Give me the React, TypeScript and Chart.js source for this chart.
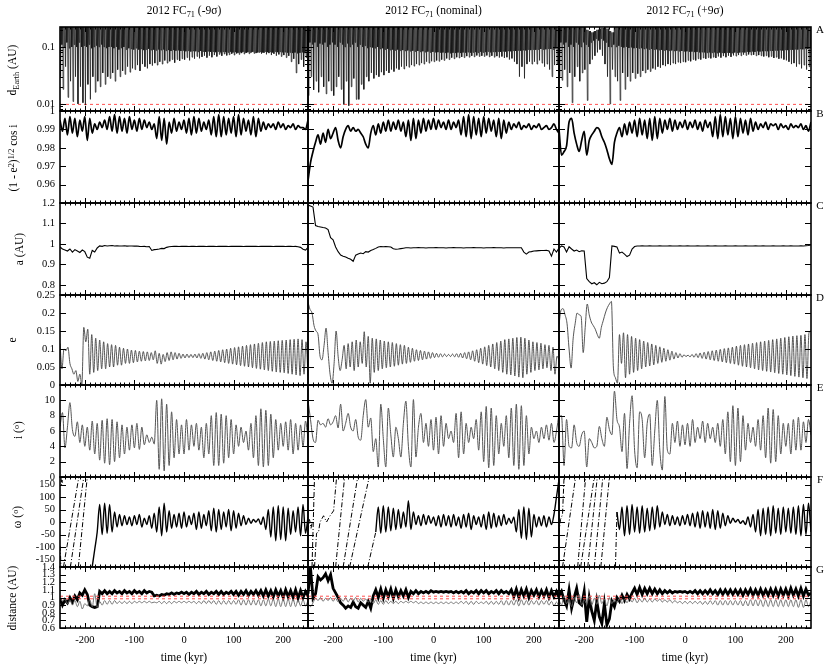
import React, { useEffect, useRef } from "react";
import { Chart, registerables } from "chart.js";

Chart.register(...registerables);

const SERIF = "'Liberation Serif', 'Times New Roman', Times, serif";

// ---------------- time axis ----------------
const T_MIN = -250;
const T_MAX = 250;
const X_TICKS = [-200, -100, 0, 100, 200];
const X_MINOR_STEP = 10;

// ---------------- titles ----------------
const COLUMN_TAGS = ["(-9σ)", "(nominal)", "(+9σ)"];
const PANEL_LETTERS = ["A", "B", "C", "D", "E", "F", "G"];

// ---------------- y axes ----------------
const A_RANGE = [0.0075, 0.224];
const A_TICKS = [0.01, 0.1];
const A_MINOR = [0.008, 0.009, 0.02, 0.03, 0.04, 0.05, 0.06, 0.07, 0.08, 0.09, 0.2];
const B_RANGE = [0.95, 1.0];
const B_TICKS = [0.96, 0.97, 0.98, 0.99, 1];
const C_RANGE = [0.75, 1.2];
const C_TICKS = [0.8, 0.9, 1, 1.1, 1.2];
const D_RANGE = [0, 0.25];
const D_TICKS = [0, 0.05, 0.1, 0.15, 0.2, 0.25];
const E_RANGE = [0, 12];
const E_TICKS = [0, 2, 4, 6, 8, 10];
const F_RANGE = [-180, 180];
const F_TICKS = [-150, -100, -50, 0, 50, 100, 150];
const G_RANGE = [0.6, 1.4];
const G_TICKS = [0.6, 0.7, 0.8, 0.9, 1, 1.1, 1.2, 1.3, 1.4];

const HILL_RADIUS = 0.0098;
const EARTH_PERIHELION = 0.983;
const EARTH_APHELION = 1.017;

// ---------------- A : d_Earth ----------------
// maxima of the encounter cycles (mostly above the plotted range)
const A_TOP = 0.3;
const A_MAX_3 = [
  0.3, 0.3, 0.3, 0.3, 0.3, 0.3, 0.3, 0.3, 0.3, 0.3,
  0.3, 0.2, 0.19, 0.18, 0.19, 0.2, 0.21, 0.215, 0.22, 0.21,
  0.19, 0.18, 0.3, 0.3, 0.3, 0.3, 0.3, 0.3, 0.3, 0.3,
  0.3, 0.3, 0.3, 0.3, 0.3, 0.3, 0.3, 0.3, 0.3, 0.3,
  0.3, 0.3, 0.3, 0.3, 0.3, 0.3, 0.3, 0.3, 0.3, 0.3,
  0.3, 0.3, 0.3, 0.3, 0.3, 0.3, 0.3, 0.3, 0.3, 0.3,
  0.3, 0.3, 0.3, 0.3, 0.3, 0.3, 0.3, 0.3, 0.3, 0.3,
  0.3, 0.3, 0.3, 0.3, 0.3, 0.3, 0.3, 0.3, 0.3, 0.3,
  0.3, 0.3, 0.3, 0.3, 0.3, 0.3, 0.3, 0.3, 0.3, 0.3,
  0.3, 0.3, 0.3, 0.3, 0.3, 0.3, 0.3, 0.3, 0.3, 0.3,
  0.3,
];
// deepest minima, one per 5 kyr (from -248.75)
const A_MIN_1 = [
  0.03, 0.018, 0.045, 0.013, 0.025, 0.011, 0.03, 0.01, 0.02, 0.0105,
  0.0095, 0.022, 0.012, 0.03, 0.016, 0.025, 0.02, 0.035, 0.022, 0.03,
  0.028, 0.035, 0.025, 0.04, 0.03, 0.038, 0.033, 0.045, 0.036, 0.042,
  0.04, 0.048, 0.038, 0.05, 0.045, 0.042, 0.05, 0.047, 0.052, 0.048,
  0.055, 0.05, 0.058, 0.052, 0.056, 0.06, 0.053, 0.06, 0.057, 0.062,
  0.06, 0.065, 0.058, 0.066, 0.062, 0.068, 0.063, 0.067, 0.07, 0.065,
  0.07, 0.066, 0.072, 0.068, 0.074, 0.07, 0.075, 0.071, 0.073, 0.076,
  0.072, 0.077, 0.074, 0.078, 0.075, 0.079, 0.076, 0.08, 0.077, 0.078,
  0.08, 0.076, 0.079, 0.074, 0.078, 0.072, 0.076, 0.07, 0.074, 0.068,
  0.072, 0.065, 0.07, 0.055, 0.062, 0.035, 0.05, 0.06, 0.045, 0.065,
];
const A_MIN_2 = [
  0.014, 0.03, 0.0176, 0.025, 0.016, 0.03, 0.02, 0.015, 0.025, 0.017,
  0.014, 0.02, 0.03, 0.018, 0.0098, 0.025, 0.0093, 0.02, 0.028, 0.012,
  0.012, 0.022, 0.018, 0.03, 0.025, 0.035, 0.028, 0.032, 0.03, 0.036,
  0.032, 0.038, 0.035, 0.04, 0.037, 0.042, 0.04, 0.045, 0.041, 0.046,
  0.044, 0.048, 0.046, 0.05, 0.048, 0.052, 0.05, 0.055, 0.052, 0.056,
  0.055, 0.058, 0.056, 0.06, 0.058, 0.063, 0.06, 0.065, 0.062, 0.066,
  0.064, 0.067, 0.065, 0.069, 0.066, 0.07, 0.067, 0.071, 0.068, 0.07,
  0.068, 0.071, 0.067, 0.07, 0.066, 0.069, 0.065, 0.068, 0.064, 0.066,
  0.06, 0.063, 0.055, 0.05, 0.03, 0.045, 0.028, 0.05, 0.055, 0.05,
  0.055, 0.05, 0.058, 0.052, 0.045, 0.05, 0.04, 0.03, 0.048, 0.05,
];
const A_MIN_3 = [
  0.03, 0.026, 0.04, 0.02, 0.035, 0.0105, 0.03, 0.045, 0.025, 0.035,
  0.04, 0.0115, 0.05, 0.06, 0.07, 0.08, 0.09, 0.07, 0.05, 0.03,
  0.01, 0.04, 0.03, 0.025, 0.0115, 0.035, 0.018, 0.03, 0.025, 0.035,
  0.028, 0.034, 0.03, 0.038, 0.035, 0.04, 0.037, 0.042, 0.04, 0.045,
  0.043, 0.048, 0.046, 0.05, 0.048, 0.052, 0.05, 0.054, 0.052, 0.055,
  0.054, 0.058, 0.056, 0.06, 0.058, 0.062, 0.06, 0.064, 0.062, 0.065,
  0.063, 0.066, 0.064, 0.068, 0.065, 0.069, 0.066, 0.07, 0.067, 0.071,
  0.069, 0.072, 0.07, 0.073, 0.071, 0.074, 0.072, 0.073, 0.07, 0.072,
  0.07, 0.068, 0.07, 0.066, 0.068, 0.064, 0.066, 0.062, 0.063, 0.06,
  0.058, 0.055, 0.05, 0.052, 0.045, 0.05, 0.042, 0.048, 0.04, 0.045,
];
// shallow minima (lower edge of the solid band), one per 5 kyr (from -246.25)
const A_BAND_1 = [
  0.11, 0.1, 0.12, 0.095, 0.1, 0.11, 0.1, 0.12, 0.1, 0.105,
  0.1, 0.11, 0.095, 0.1, 0.105, 0.1, 0.11, 0.1, 0.095, 0.1,
  0.1, 0.095, 0.1, 0.09, 0.095, 0.1, 0.09, 0.095, 0.092, 0.09,
  0.095, 0.09, 0.092, 0.088, 0.09, 0.093, 0.088, 0.09, 0.087, 0.09,
  0.088, 0.09, 0.086, 0.088, 0.085, 0.088, 0.086, 0.087, 0.085, 0.086,
  0.084, 0.086, 0.083, 0.085, 0.084, 0.082, 0.085, 0.083, 0.082, 0.084,
  0.082, 0.083, 0.081, 0.083, 0.08, 0.082, 0.081, 0.08, 0.082, 0.08,
  0.081, 0.079, 0.08, 0.082, 0.079, 0.081, 0.08, 0.082, 0.079, 0.08,
  0.082, 0.08, 0.083, 0.081, 0.082, 0.08, 0.083, 0.081, 0.082, 0.08,
  0.081, 0.079, 0.08, 0.078, 0.08, 0.077, 0.079, 0.08, 0.078, 0.08,
];
const A_BAND_2 = [
  0.12, 0.11, 0.12, 0.1, 0.115, 0.11, 0.12, 0.1, 0.11, 0.12,
  0.11, 0.1, 0.12, 0.11, 0.1, 0.115, 0.1, 0.11, 0.12, 0.1,
  0.11, 0.1, 0.105, 0.095, 0.1, 0.098, 0.095, 0.1, 0.092, 0.095,
  0.09, 0.093, 0.088, 0.09, 0.087, 0.09, 0.086, 0.088, 0.085, 0.087,
  0.084, 0.086, 0.083, 0.085, 0.082, 0.084, 0.081, 0.083, 0.08, 0.082,
  0.08, 0.081, 0.079, 0.08, 0.078, 0.08, 0.077, 0.079, 0.078, 0.08,
  0.078, 0.08, 0.079, 0.081, 0.079, 0.08, 0.081, 0.079, 0.082, 0.08,
  0.081, 0.083, 0.08, 0.082, 0.081, 0.083, 0.082, 0.084, 0.083, 0.085,
  0.084, 0.086, 0.085, 0.087, 0.086, 0.088, 0.087, 0.09, 0.088, 0.09,
  0.089, 0.09, 0.092, 0.09, 0.091, 0.093, 0.092, 0.09, 0.094, 0.092,
];
const A_BAND_3 = [
  0.12, 0.11, 0.12, 0.1, 0.11, 0.1, 0.12, 0.11, 0.1, 0.12,
  0.11, 0.1, 0.12, 0.13, 0.14, 0.13, 0.14, 0.13, 0.12, 0.1,
  0.1, 0.11, 0.1, 0.105, 0.1, 0.098, 0.1, 0.096, 0.098, 0.095,
  0.096, 0.094, 0.095, 0.092, 0.094, 0.09, 0.092, 0.09, 0.091, 0.088,
  0.089, 0.087, 0.088, 0.086, 0.087, 0.085, 0.086, 0.084, 0.085, 0.083,
  0.084, 0.082, 0.083, 0.081, 0.082, 0.08, 0.081, 0.08, 0.079, 0.08,
  0.079, 0.08, 0.078, 0.08, 0.079, 0.078, 0.08, 0.079, 0.078, 0.08,
  0.079, 0.08, 0.081, 0.08, 0.082, 0.081, 0.083, 0.082, 0.084, 0.083,
  0.084, 0.085, 0.084, 0.086, 0.085, 0.087, 0.086, 0.088, 0.087, 0.089,
  0.088, 0.09, 0.089, 0.091, 0.09, 0.092, 0.091, 0.093, 0.092, 0.094,
];

// ---------------- B : (1-e^2)^1/2 cos i, every 5 kyr from -250 ----------------
const B_1 = [
  0.995, 0.989, 0.996, 0.987, 0.997, 0.988, 0.996, 0.986, 0.995, 0.989,
  0.997, 0.984, 0.996, 0.988, 0.993, 0.990, 0.994, 0.991, 0.995, 0.990,
  0.997, 0.989, 0.998, 0.988, 0.997, 0.989, 0.996, 0.988, 0.997, 0.990,
  0.995, 0.989, 0.996, 0.990, 0.995, 0.991, 0.994, 0.990, 0.993, 0.985,
  0.997, 0.984, 0.996, 0.982, 0.994, 0.988, 0.996, 0.989, 0.994, 0.990,
  0.995, 0.988, 0.996, 0.987, 0.997, 0.988, 0.996, 0.989, 0.994, 0.990,
  0.995, 0.987, 0.997, 0.986, 0.998, 0.986, 0.997, 0.987, 0.996, 0.988,
  0.997, 0.986, 0.998, 0.987, 0.996, 0.989, 0.995, 0.987, 0.997, 0.986,
  0.996, 0.989, 0.994, 0.990, 0.993, 0.991, 0.993, 0.990, 0.994, 0.991,
  0.993, 0.990, 0.992, 0.991, 0.993, 0.990, 0.992, 0.991, 0.991, 0.990,
  0.995,
];
const B_2 = [
  0.962, 0.972, 0.978, 0.983, 0.987, 0.982, 0.988, 0.983, 0.990, 0.985,
  0.988, 0.991, 0.984, 0.980, 0.986, 0.990, 0.992, 0.989, 0.991, 0.989,
  0.990, 0.988, 0.986, 0.982, 0.980, 0.988, 0.992, 0.987, 0.993, 0.988,
  0.994, 0.989, 0.995, 0.989, 0.994, 0.990, 0.995, 0.989, 0.994, 0.986,
  0.995, 0.984, 0.996, 0.985, 0.995, 0.988, 0.996, 0.989, 0.995, 0.990,
  0.996, 0.990, 0.995, 0.991, 0.994, 0.990, 0.995, 0.990, 0.994, 0.991,
  0.995, 0.987, 0.997, 0.986, 0.998, 0.985, 0.997, 0.987, 0.996, 0.986,
  0.997, 0.988, 0.996, 0.989, 0.995, 0.986, 0.996, 0.985, 0.995, 0.988,
  0.994, 0.990, 0.993, 0.991, 0.994, 0.990, 0.992, 0.991, 0.993, 0.990,
  0.992, 0.991, 0.993, 0.990, 0.991, 0.992, 0.990, 0.991, 0.993, 0.990,
  0.988,
];
const B_3 = [
  0.990, 0.976, 0.978, 0.981, 0.994, 0.996, 0.988, 0.982, 0.978, 0.984,
  0.989, 0.976, 0.984, 0.987, 0.989, 0.991, 0.990, 0.986, 0.983, 0.979,
  0.974, 0.971, 0.983, 0.988, 0.991, 0.986, 0.993, 0.987, 0.994, 0.988,
  0.995, 0.986, 0.996, 0.987, 0.995, 0.985, 0.996, 0.984, 0.997, 0.985,
  0.996, 0.988, 0.995, 0.990, 0.996, 0.989, 0.995, 0.990, 0.994, 0.991,
  0.995, 0.990, 0.994, 0.991, 0.995, 0.990, 0.994, 0.989, 0.995, 0.991,
  0.994, 0.986, 0.997, 0.985, 0.998, 0.986, 0.997, 0.987, 0.996, 0.985,
  0.997, 0.986, 0.996, 0.988, 0.995, 0.987, 0.996, 0.989, 0.994, 0.990,
  0.993, 0.991, 0.994, 0.990, 0.993, 0.992, 0.993, 0.990, 0.993, 0.991,
  0.992, 0.990, 0.993, 0.991, 0.992, 0.991, 0.993, 0.990, 0.992, 0.989,
  0.994,
];

// ---------------- C : a (AU), every 5 kyr from -250 ----------------
const C_1 = [
  0.985, 0.975, 0.970, 0.965, 0.975, 0.960, 0.972, 0.965, 0.958, 0.970,
  0.962, 0.935, 0.930, 0.968, 0.960, 0.980, 0.990, 0.988, 0.992, 0.990,
  0.991, 0.992, 0.990, 0.991, 0.990, 0.990, 0.991, 0.989, 0.990, 0.990,
  0.989, 0.990, 0.988, 0.987, 0.988, 0.986, 0.987, 0.968, 0.972, 0.973,
  0.975, 0.978, 0.977, 0.983, 0.986, 0.987, 0.988, 0.988, 0.987, 0.988,
  0.988, 0.988, 0.987, 0.988, 0.988, 0.987, 0.988, 0.988, 0.988, 0.987,
  0.988, 0.988, 0.988, 0.987, 0.988, 0.988, 0.988, 0.988, 0.987, 0.988,
  0.988, 0.988, 0.988, 0.988, 0.987, 0.988, 0.988, 0.988, 0.988, 0.988,
  0.987, 0.988, 0.988, 0.988, 0.988, 0.988, 0.987, 0.988, 0.988, 0.988,
  0.988, 0.987, 0.988, 0.988, 0.987, 0.988, 0.986, 0.983, 0.974, 0.970,
  0.983,
];
const C_2 = [
  1.190, 1.185, 1.180, 1.090, 1.085, 1.083, 1.080, 1.078, 1.070, 1.030,
  1.020, 0.985, 0.962, 0.945, 0.940, 0.936, 0.930, 0.925, 0.915, 0.945,
  0.950, 0.955, 0.952, 0.962, 0.960, 0.968, 0.972, 0.978, 0.985, 0.987,
  0.986, 0.987, 0.986, 0.985, 0.976, 0.974, 0.975, 0.977, 0.979, 0.981,
  0.981, 0.980, 0.981, 0.981, 0.982, 0.981, 0.981, 0.980, 0.981, 0.981,
  0.981, 0.982, 0.981, 0.981, 0.981, 0.980, 0.981, 0.981, 0.982, 0.981,
  0.981, 0.981, 0.980, 0.981, 0.981, 0.981, 0.982, 0.981, 0.981, 0.981,
  0.980, 0.981, 0.981, 0.981, 0.982, 0.981, 0.981, 0.981, 0.980, 0.981,
  0.981, 0.981, 0.981, 0.981, 0.981, 0.981, 0.960, 0.950, 0.960, 0.962,
  0.965, 0.966, 0.967, 0.968, 0.968, 0.969, 0.965, 0.940, 0.975, 0.960,
  0.980,
];
const C_3 = [
  0.978, 0.990, 0.985, 0.960, 0.986, 0.975, 0.965, 0.970, 0.962, 0.966,
  0.965, 0.830, 0.815, 0.805, 0.810, 0.800, 0.812, 0.805, 0.808, 0.815,
  0.835, 0.990, 0.988, 0.985, 0.955, 0.960, 0.950, 0.938, 0.945, 0.975,
  0.987, 0.990, 0.990, 0.991, 0.990, 0.990, 0.991, 0.990, 0.990, 0.990,
  0.991, 0.990, 0.990, 0.990, 0.991, 0.990, 0.990, 0.990, 0.991, 0.990,
  0.990, 0.991, 0.990, 0.990, 0.990, 0.991, 0.990, 0.990, 0.990, 0.991,
  0.990, 0.990, 0.991, 0.990, 0.990, 0.990, 0.991, 0.990, 0.990, 0.990,
  0.991, 0.990, 0.990, 0.990, 0.991, 0.990, 0.990, 0.990, 0.991, 0.990,
  0.990, 0.991, 0.990, 0.990, 0.990, 0.991, 0.990, 0.990, 0.990, 0.991,
  0.990, 0.990, 0.991, 0.990, 0.990, 0.990, 0.991, 0.990, 0.991, 0.992,
  0.995,
];

// ---------------- D : e, every 4 kyr from -250 ----------------
const D_1 = [
  0.115, 0.045, 0.100, 0.095, 0.105, 0.060, 0.045, 0.030, 0.040, 0.010,
  0.030, 0.000, 0.160, 0.120, 0.155, 0.030, 0.140, 0.035, 0.130, 0.040,
  0.125, 0.045, 0.120, 0.045, 0.115, 0.050, 0.112, 0.050, 0.110, 0.055,
  0.105, 0.055, 0.102, 0.060, 0.100, 0.060, 0.097, 0.062, 0.096, 0.064,
  0.094, 0.066, 0.093, 0.067, 0.092, 0.068, 0.090, 0.070, 0.095, 0.060,
  0.088, 0.058, 0.085, 0.065, 0.090, 0.068, 0.092, 0.070, 0.090, 0.072,
  0.088, 0.074, 0.086, 0.075, 0.086, 0.076, 0.085, 0.076, 0.086, 0.075,
  0.087, 0.074, 0.088, 0.072, 0.090, 0.070, 0.092, 0.068, 0.094, 0.066,
  0.096, 0.064, 0.098, 0.062, 0.100, 0.060, 0.102, 0.058, 0.104, 0.056,
  0.106, 0.054, 0.108, 0.052, 0.110, 0.050, 0.112, 0.048, 0.114, 0.046,
  0.116, 0.044, 0.118, 0.042, 0.120, 0.040, 0.121, 0.038, 0.122, 0.036,
  0.123, 0.035, 0.124, 0.034, 0.125, 0.032, 0.126, 0.030, 0.127, 0.028,
  0.128, 0.026, 0.126, 0.030, 0.120, 0.025,
];
const D_2 = [
  0.230, 0.210, 0.200, 0.165, 0.150, 0.140, 0.080, 0.070, 0.110, 0.158,
  0.090, 0.030, 0.005, 0.060, 0.150, 0.080, 0.040, 0.070, 0.110, 0.045,
  0.115, 0.050, 0.120, 0.040, 0.125, 0.050, 0.120, 0.060, 0.148, 0.050,
  0.135, 0.005, 0.130, 0.035, 0.128, 0.040, 0.125, 0.045, 0.122, 0.048,
  0.120, 0.050, 0.118, 0.052, 0.115, 0.055, 0.112, 0.058, 0.110, 0.060,
  0.105, 0.063, 0.102, 0.066, 0.098, 0.068, 0.096, 0.070, 0.094, 0.072,
  0.092, 0.074, 0.090, 0.076, 0.088, 0.077, 0.087, 0.078, 0.086, 0.079,
  0.085, 0.079, 0.086, 0.078, 0.087, 0.077, 0.088, 0.075, 0.090, 0.073,
  0.092, 0.070, 0.095, 0.066, 0.098, 0.062, 0.102, 0.058, 0.106, 0.054,
  0.110, 0.050, 0.114, 0.045, 0.118, 0.040, 0.122, 0.035, 0.126, 0.030,
  0.128, 0.028, 0.130, 0.025, 0.132, 0.022, 0.133, 0.020, 0.130, 0.030,
  0.125, 0.035, 0.120, 0.040, 0.118, 0.042, 0.116, 0.045, 0.112, 0.048,
  0.110, 0.040, 0.105, 0.030, 0.080, 0.070,
];
const D_3 = [
  0.167, 0.208, 0.212, 0.195, 0.170, 0.100, 0.047, 0.128, 0.170, 0.200,
  0.195, 0.190, 0.090, 0.160, 0.225, 0.195, 0.175, 0.165, 0.155, 0.140,
  0.130, 0.160, 0.180, 0.200, 0.215, 0.225, 0.232, 0.047, 0.020, 0.005,
  0.140, 0.060, 0.145, 0.020, 0.140, 0.030, 0.135, 0.035, 0.130, 0.040,
  0.126, 0.045, 0.122, 0.050, 0.118, 0.053, 0.114, 0.056, 0.110, 0.060,
  0.106, 0.063, 0.102, 0.066, 0.098, 0.069, 0.094, 0.072, 0.090, 0.075,
  0.087, 0.077, 0.084, 0.079, 0.083, 0.078, 0.085, 0.077, 0.087, 0.076,
  0.089, 0.074, 0.091, 0.072, 0.093, 0.070, 0.095, 0.068, 0.097, 0.066,
  0.099, 0.064, 0.101, 0.062, 0.103, 0.060, 0.105, 0.058, 0.108, 0.055,
  0.110, 0.052, 0.112, 0.050, 0.114, 0.048, 0.116, 0.045, 0.118, 0.042,
  0.120, 0.040, 0.122, 0.038, 0.124, 0.036, 0.126, 0.034, 0.128, 0.032,
  0.130, 0.030, 0.132, 0.028, 0.134, 0.026, 0.136, 0.024, 0.137, 0.022,
  0.138, 0.020, 0.140, 0.018, 0.145, 0.150,
];

// ---------------- E : i (deg), every 5 kyr from -250 ----------------
const E_1 = [
  6.6, 8.4, 3.8, 6.5, 9.7, 6.2, 5.3, 7.2, 4.5, 6.8,
  4.0, 6.5, 3.5, 7.3, 3.0, 7.0, 2.2, 7.4, 1.8, 7.6,
  1.6, 7.5, 2.0, 7.2, 2.5, 6.8, 3.0, 6.5, 3.5, 6.8,
  3.8, 7.0, 3.6, 6.5, 4.2, 5.5, 4.5, 5.2, 4.3, 10.0,
  1.0, 10.2, 0.8, 9.5, 1.5, 8.5, 2.5, 7.5, 3.0, 6.8,
  3.0, 7.5, 3.5, 6.8, 4.0, 7.0, 3.5, 6.5, 2.5, 7.0,
  3.0, 8.0, 1.5, 8.4, 1.5, 8.2, 1.8, 8.0, 2.5, 7.5,
  3.0, 6.8, 4.0, 6.5, 4.5, 6.0, 3.5, 7.0, 2.5, 8.0,
  1.5, 8.9, 1.3, 8.7, 1.5, 8.2, 2.5, 7.5, 3.5, 7.0,
  4.0, 7.2, 3.5, 7.5, 3.0, 7.0, 3.5, 6.8, 4.0, 7.3,
  5.0,
];
const E_2 = [
  10.0, 7.5, 5.0, 4.5, 7.4, 6.8, 7.0, 6.5, 7.6, 6.8,
  7.2, 8.0, 6.4, 9.5, 6.0, 7.0, 8.3, 6.5, 6.0, 7.5,
  5.2, 4.8, 8.0, 10.1, 6.5, 7.7, 3.3, 5.0, 1.3, 9.5,
  5.0, 1.3, 9.0, 5.5, 2.6, 6.5, 5.0, 2.6, 7.0, 9.9,
  4.0, 1.3, 10.1, 2.6, 6.5, 8.3, 4.5, 7.0, 4.0, 7.5,
  3.5, 7.8, 3.0, 8.0, 4.0, 7.0, 5.0, 6.0, 4.5, 8.3,
  2.5, 8.5, 3.0, 7.0, 4.5, 6.5, 5.0, 7.5, 3.5, 8.5,
  2.0, 9.2, 1.2, 9.0, 1.5, 8.0, 3.0, 7.0, 4.0, 8.0,
  2.5, 9.0, 1.5, 9.5, 1.0, 9.3, 1.5, 8.0, 3.0, 6.5,
  5.0, 6.0, 4.5, 6.5, 5.0, 6.8, 4.8, 7.0, 4.5, 6.0,
  8.3,
];
const E_3 = [
  7.9, 8.0, 1.5, 7.5, 4.0, 3.8, 6.8, 4.5, 4.0, 5.5,
  6.0, 1.3, 5.0, 4.5, 3.8, 4.0, 6.6, 5.0, 4.0, 7.8,
  6.2, 5.5, 11.2, 7.5, 6.5, 3.3, 8.3, 1.1, 7.0, 10.6,
  3.5, 1.2, 8.5, 7.5, 2.5, 7.0, 8.2, 1.5, 6.0, 10.0,
  3.5, 0.9, 10.5, 3.5, 3.0, 7.0, 4.5, 7.3, 4.0, 6.8,
  4.2, 7.0, 4.0, 7.5, 4.5, 6.5, 5.0, 7.3, 4.5, 7.0,
  5.0, 6.5, 4.5, 7.0, 4.0, 7.5, 3.0, 8.5, 2.0, 9.3,
  1.5, 9.0, 2.0, 8.0, 3.5, 7.0, 4.5, 6.5, 4.0, 7.5,
  3.5, 8.0, 2.5, 9.0, 1.8, 8.8, 2.0, 8.0, 3.0, 7.0,
  4.0, 7.0, 3.0, 7.5, 3.5, 7.8, 3.5, 7.2, 4.5, 7.5,
  5.5,
];

// ---------------- F : omega (deg), every 5 kyr from -250 (null while circulating) ----------------
const F_1 = [
  null, null, null, null, null, null, null, null, null, null,
  null, null, null, -178, -110, -40, 70, -50, 75, -45,
  70, -40, 40, -20, 30, -15, 25, -10, 20, -15,
  25, -10, 30, -20, 15, -10, 25, -25, 35, -40,
  60, -55, 75, -40, 45, -25, 30, -20, 35, -25,
  40, -20, 25, -10, 35, -30, 40, -25, 30, -15,
  45, -35, 55, -40, 50, -30, 40, -20, 50, -35,
  45, -25, 35, -15, 25, -10, 15, -5, 10, 0,
  12, -10, 20, -30, 50, -60, 60, -75, 65, -70,
  60, -75, 55, -50, 45, -40, 60, -55, 70, -45,
  20,
];
const F_2 = [
  null, null, null, null, null, null, null, null, null, null,
  null, null, null, null, null, null, null, null, null, null,
  null, null, null, null, null, null, null, -40, 60, -45,
  65, -40, 60, -35, 55, -30, 50, -25, 40, -20,
  85, -30, 40, -10, 25, -15, 30, -10, 25, -5,
  20, -15, 25, -20, 30, -15, 25, -20, 30, -15,
  20, -25, 30, -20, 35, -30, 25, -10, 20, -20,
  30, -30, 40, -25, 35, -20, 25, -15, 30, -10,
  15, -5, 20, -40, 50, -65, 60, -70, 55, -60,
  30, -20, 20, -15, 25, -20, 20, -10, 30, 100,
  170,
];
const F_3 = [
  null, null, null, null, null, null, null, null, null, null,
  null, null, null, null, null, null, null, null, null, null,
  null, null, null, 40, -30, 60, -55, 65, -50, 70,
  -40, 60, -45, 65, -40, 55, -35, 60, -30, 65,
  -20, 40, -10, 30, -15, 25, -10, 20, -15, 25,
  -10, 30, -15, 35, -20, 40, -25, 45, -20, 40,
  -25, 50, -30, 45, -25, 35, -15, 25, -5, 15,
  0, 10, -5, 5, -10, 20, -20, 30, -40, 50,
  -55, 55, -50, 60, -55, 65, -45, 55, -50, 60,
  -40, 55, -45, 60, -50, 65, -55, 70, -50, 75,
  -40,
];
// circulating stretches: [time (kyr), omega (deg)]
const F_WRAP_1 = [
  [[-250, -95], [-249, -130], [-248, -180]],
  [[-248, 180], [-247, 150], [-246, 168], [-245, 140]],
  [[-243, -180], [-212, 180]],
  [[-229, -180], [-202, 180]],
  [[-213, -180], [-195, 180]],
  [[-190, -180], [-185, -178]],
];
const F_WRAP_2 = [
  [[-250, -35], [-247, 10], [-244, -25], [-242, -5]],
  [[-242, -180], [-237, 180]],
  [[-237, -180], [-233, -45], [-229, -40], [-226, 0], [-219, 25], [-213, 0], [-206, 25], [-199, 45], [-193, 180]],
  [[-195, -180], [-177, 180]],
  [[-180, -180], [-151, 180]],
  [[-167, -180], [-128, 180]],
  [[-131, -180], [-115, -40]],
];
const F_WRAP_3 = [
  [[-250, -45], [-247, 10], [-243, 30], [-240, 180]],
  [[-243, -180], [-217, 180]],
  [[-213, -180], [-197, 180]],
  [[-207, -180], [-180, 180]],
  [[-193, -180], [-174, 180]],
  [[-180, -180], [-163, 180]],
  [[-167, -180], [-150, 180]],
  [[-138, -180], [-135, 40]],
];

// ---------------- G : distances (AU), every 5 kyr from -250 ----------------
const G_THICK_1 = [
  0.99, 0.90, 0.97, 0.93, 1.00, 0.94, 1.02, 0.97, 1.06, 1.03,
  1.10, 1.04, 0.90, 0.88, 0.87, 0.88, 1.08, 1.05, 1.09, 1.05,
  1.08, 1.05, 1.09, 1.06, 1.08, 1.05, 1.09, 1.06, 1.08, 1.05,
  1.09, 1.06, 1.08, 1.05, 1.09, 1.06, 1.08, 1.07, 1.02, 1.03,
  1.02, 1.04, 1.03, 1.05, 1.04, 1.06, 1.04, 1.06, 1.05, 1.07,
  1.05, 1.07, 1.04, 1.07, 1.05, 1.08, 1.04, 1.07, 1.05, 1.08,
  1.04, 1.07, 1.05, 1.08, 1.04, 1.08, 1.04, 1.07, 1.05, 1.08,
  1.04, 1.08, 1.03, 1.08, 1.04, 1.09, 1.03, 1.08, 1.04, 1.09,
  1.03, 1.09, 1.02, 1.10, 1.02, 1.09, 1.01, 1.10, 1.02, 1.09,
  1.00, 1.10, 1.01, 1.09, 1.00, 1.10, 0.99, 1.09, 1.00, 1.08,
  1.02,
];
const G_THIN_1 = [
  1.00, 0.95, 0.98, 0.92, 0.97, 0.90, 0.96, 0.88, 0.95, 0.85,
  0.92, 0.89, 0.97, 0.88, 1.05, 0.87, 0.95, 0.90, 0.96, 0.91,
  0.96, 0.91, 0.96, 0.92, 0.95, 0.92, 0.95, 0.92, 0.95, 0.92,
  0.95, 0.93, 0.95, 0.93, 0.95, 0.93, 0.95, 0.93, 0.94, 0.93,
  0.95, 0.92, 0.95, 0.92, 0.95, 0.92, 0.95, 0.93, 0.95, 0.93,
  0.95, 0.93, 0.95, 0.93, 0.95, 0.92, 0.95, 0.92, 0.96, 0.92,
  0.96, 0.92, 0.96, 0.91, 0.96, 0.91, 0.96, 0.91, 0.96, 0.91,
  0.96, 0.91, 0.97, 0.90, 0.97, 0.90, 0.97, 0.90, 0.97, 0.90,
  0.97, 0.89, 0.97, 0.89, 0.98, 0.89, 0.98, 0.88, 0.98, 0.88,
  0.98, 0.88, 0.98, 0.88, 0.98, 0.88, 0.97, 0.89, 0.97, 0.89,
  0.96,
];
const G_THICK_2 = [
  1.05, 1.39, 0.99, 1.05, 1.27, 1.23, 1.26, 1.31, 1.22, 1.30,
  1.12, 1.06, 1.00, 0.93, 0.90, 0.86, 0.89, 0.87, 0.94, 0.88,
  0.86, 0.93, 0.90, 0.87, 0.95, 0.86, 1.02, 1.10, 1.00, 1.11,
  0.99, 1.10, 1.01, 1.11, 0.99, 1.10, 1.01, 1.09, 1.02, 1.10,
  1.00, 1.08, 1.05, 1.09, 1.05, 1.08, 1.06, 1.08, 1.06, 1.09,
  1.07, 1.08, 1.07, 1.08, 1.07, 1.08, 1.07, 1.08, 1.06, 1.08,
  1.06, 1.08, 1.06, 1.09, 1.05, 1.08, 1.06, 1.09, 1.05, 1.09,
  1.06, 1.09, 1.05, 1.08, 1.06, 1.09, 1.05, 1.09, 1.06, 1.08,
  1.05, 1.10, 1.01, 1.11, 1.00, 1.10, 1.02, 1.11, 1.00, 1.09,
  1.03, 1.10, 1.01, 1.09, 1.02, 1.10, 1.00, 1.09, 1.01, 1.08,
  1.00,
];
const G_THIN_2 = [
  0.92, 0.88, 0.93, 0.99, 0.96, 1.00, 0.95, 0.99, 0.96, 1.00,
  0.95, 0.99, 0.94, 0.99, 0.95, 1.00, 0.94, 0.99, 0.95, 1.00,
  0.94, 0.99, 0.95, 0.98, 0.94, 0.97, 0.92, 0.97, 0.91, 0.96,
  0.91, 0.96, 0.92, 0.95, 0.92, 0.95, 0.92, 0.95, 0.93, 0.95,
  0.93, 0.95, 0.93, 0.95, 0.92, 0.94, 0.92, 0.94, 0.92, 0.94,
  0.92, 0.94, 0.92, 0.94, 0.92, 0.94, 0.92, 0.94, 0.92, 0.94,
  0.92, 0.95, 0.92, 0.95, 0.91, 0.95, 0.91, 0.95, 0.92, 0.94,
  0.92, 0.95, 0.91, 0.95, 0.91, 0.95, 0.91, 0.96, 0.90, 0.96,
  0.90, 0.96, 0.90, 0.97, 0.89, 0.97, 0.90, 0.96, 0.90, 0.96,
  0.91, 0.96, 0.90, 0.96, 0.91, 0.96, 0.90, 0.95, 0.89, 0.94,
  0.88,
];
const G_THICK_3 = [
  1.02, 1.08, 0.97, 0.89, 1.10, 0.86, 1.00, 1.12, 0.93, 0.90,
  1.08, 0.68, 1.00, 0.82, 0.70, 0.95, 0.75, 0.66, 0.92, 0.64,
  0.72, 0.95, 0.88, 1.00, 0.95, 1.03, 0.96, 1.04, 0.98, 1.06,
  1.12, 1.04, 1.13, 1.04, 1.12, 1.05, 1.12, 1.05, 1.11, 1.05,
  1.10, 1.05, 1.09, 1.06, 1.09, 1.06, 1.08, 1.07, 1.08, 1.07,
  1.08, 1.06, 1.08, 1.06, 1.09, 1.05, 1.09, 1.05, 1.09, 1.05,
  1.10, 1.05, 1.09, 1.04, 1.10, 1.04, 1.10, 1.04, 1.10, 1.04,
  1.10, 1.04, 1.10, 1.03, 1.10, 1.04, 1.11, 1.03, 1.10, 1.03,
  1.11, 1.03, 1.10, 1.03, 1.11, 1.03, 1.11, 1.02, 1.11, 1.03,
  1.11, 1.02, 1.12, 1.03, 1.11, 1.02, 1.12, 1.02, 1.11, 1.03,
  1.06,
];
const G_THIN_3 = [
  0.97, 0.90, 1.02, 0.92, 0.98, 0.88, 1.00, 0.93, 1.04, 0.90,
  0.97, 0.92, 1.02, 0.90, 0.99, 0.91, 1.03, 0.92, 0.98, 0.89,
  1.00, 0.92, 0.98, 0.93, 0.99, 0.92, 0.98, 0.93, 0.99, 0.94,
  0.99, 0.93, 0.98, 0.94, 0.99, 0.94, 0.98, 0.94, 0.98, 0.95,
  0.98, 0.94, 0.97, 0.94, 0.97, 0.93, 0.96, 0.93, 0.95, 0.92,
  0.95, 0.92, 0.95, 0.92, 0.95, 0.92, 0.95, 0.91, 0.95, 0.91,
  0.96, 0.91, 0.96, 0.90, 0.96, 0.90, 0.96, 0.90, 0.96, 0.90,
  0.96, 0.90, 0.96, 0.89, 0.96, 0.89, 0.97, 0.89, 0.97, 0.89,
  0.97, 0.88, 0.97, 0.88, 0.97, 0.88, 0.97, 0.88, 0.97, 0.88,
  0.97, 0.88, 0.97, 0.88, 0.97, 0.87, 0.97, 0.87, 0.97, 0.88,
  0.96,
];

// ---------------- layout (pixels) ----------------
const ROW_HEIGHTS = [84, 92, 92, 90, 92, 90, 61];
const COL_WIDTHS = [248, 251, 252];
const PLOT_TOP = 27;
const PLOT_LEFT = 60;
const PLOT_RIGHT = 811;
const CANVAS_W = 830;
const CANVAS_H = 671;

const ROW_RANGES = [A_RANGE, B_RANGE, C_RANGE, D_RANGE, E_RANGE, F_RANGE, G_RANGE];
const ROW_TICKS = [A_TICKS, B_TICKS, C_TICKS, D_TICKS, E_TICKS, F_TICKS, G_TICKS];
const ROW_MINOR: number[][] = [A_MINOR, [], [], [], [], [], []];

const grid = (start: number, step: number, n: number) => Array.from({ length: n }, (_, i) => start + step * i);
const T5 = grid(T_MIN, 5, 101);
const T4 = grid(T_MIN, 4, 126);
const TA = grid(T_MIN, 1.25, 401);

const pts = (ts: number[], vs: (number | null)[]) => vs.map((v, i) => ({ x: ts[i], y: v }));
const aPts = (mins: number[], band: number[], maxes: number[] | null) =>
  TA.map((t, j) => {
    if (j % 2 === 0) return { x: t, y: maxes ? maxes[Math.floor(j / 4)] : A_TOP };
    if (j % 4 === 1) return { x: t, y: mins[(j - 1) / 4] };
    return { x: t, y: band[(j - 3) / 4] };
  });
const fmt = (v: any) => String(Number(Number(v).toFixed(4)));

function buildDatasets() {
  const ds: any[] = [];
  const add = (c: number, r: number, data: any[], style: any) => {
    ds.push({
      data,
      xAxisID: "x" + c,
      yAxisID: "y" + r,
      pointRadius: 0,
      fill: false,
      borderColor: "#000",
      borderWidth: 1,
      tension: 0,
      ...style,
    });
  };
  const A_MIN = [A_MIN_1, A_MIN_2, A_MIN_3];
  const A_BAND = [A_BAND_1, A_BAND_2, A_BAND_3];
  const A_MAX = [null, null, A_MAX_3];
  const B = [B_1, B_2, B_3];
  const C = [C_1, C_2, C_3];
  const D = [D_1, D_2, D_3];
  const E = [E_1, E_2, E_3];
  const F = [F_1, F_2, F_3];
  const FW = [F_WRAP_1, F_WRAP_2, F_WRAP_3];
  const GK = [G_THICK_1, G_THICK_2, G_THICK_3];
  const GN = [G_THIN_1, G_THIN_2, G_THIN_3];
  const red = { borderColor: "#ff5050", borderWidth: 1, borderDash: [3, 3] };
  const smooth = { cubicInterpolationMode: "monotone" };
  for (let c = 0; c < 3; c++) {
    add(c, 0, aPts(A_MIN[c], A_BAND[c], A_MAX[c]), { borderWidth: 0.7, borderColor: "#111" });
    add(c, 0, [{ x: T_MIN, y: HILL_RADIUS }, { x: T_MAX, y: HILL_RADIUS }], red);
    add(c, 1, pts(T5, B[c]), { borderWidth: 1.7, ...smooth });
    add(c, 2, pts(T5, C[c]), { borderWidth: 1.1 });
    add(c, 3, pts(T4, D[c]), { borderWidth: 0.9, borderColor: "#444", ...smooth });
    add(c, 4, pts(T5, E[c]), { borderWidth: 1, borderColor: "#555", ...smooth });
    add(c, 5, pts(T5, F[c]), { borderWidth: 1.4, ...smooth });
    for (const seg of FW[c]) {
      add(c, 5, seg.map((p) => ({ x: p[0], y: p[1] })), { borderWidth: 1, borderDash: [5, 2, 1, 2] });
    }
    add(c, 6, pts(T5, GN[c]), { borderWidth: 0.9, borderColor: "#666", ...smooth });
    add(c, 6, [{ x: T_MIN, y: EARTH_PERIHELION }, { x: T_MAX, y: EARTH_PERIHELION }], red);
    add(c, 6, [{ x: T_MIN, y: EARTH_APHELION }, { x: T_MAX, y: EARTH_APHELION }], red);
    add(c, 6, pts(T5, GK[c]), { borderWidth: 2.8 });
  }
  return ds;
}

const framePlugin = {
  id: "panelFrames",
  beforeDatasetDraw(chart: any, args: any) {
    const { xScale, yScale } = args.meta;
    const ctx = chart.ctx;
    ctx.save();
    ctx.beginPath();
    ctx.rect(xScale.left, yScale.top, xScale.right - xScale.left, yScale.bottom - yScale.top);
    ctx.clip();
  },
  afterDatasetDraw(chart: any) {
    chart.ctx.restore();
  },
  afterDatasetsDraw(chart: any) {
    const ctx = chart.ctx;
    ctx.save();
    ctx.strokeStyle = "#000";
    const seg = (x1: number, y1: number, x2: number, y2: number) => {
      ctx.beginPath();
      ctx.moveTo(x1, y1);
      ctx.lineTo(x2, y2);
      ctx.stroke();
    };
    for (let c = 0; c < 3; c++) {
      const xs = chart.scales["x" + c];
      for (let r = 0; r < 7; r++) {
        const ys = chart.scales["y" + r];
        ctx.lineWidth = 1;
        for (let v = T_MIN + X_MINOR_STEP; v < T_MAX; v += X_MINOR_STEP) {
          const px = Math.round(xs.getPixelForValue(v)) + 0.5;
          const len = X_TICKS.includes(v) ? 5 : 2.5;
          seg(px, ys.top, px, ys.top + len);
          seg(px, ys.bottom, px, ys.bottom - len);
        }
        for (const v of ROW_TICKS[r]) {
          const py = Math.round(ys.getPixelForValue(v)) + 0.5;
          seg(xs.left, py, xs.left + 6, py);
          seg(xs.right, py, xs.right - 6, py);
        }
        for (const v of ROW_MINOR[r]) {
          const py = Math.round(ys.getPixelForValue(v)) + 0.5;
          seg(xs.left, py, xs.left + 3, py);
          seg(xs.right, py, xs.right - 3, py);
        }
        ctx.lineWidth = 1.6;
        ctx.strokeRect(xs.left, ys.top, xs.right - xs.left, ys.bottom - ys.top);
      }
    }
    ctx.restore();
  },
};

function buildScales() {
  const scales: any = {};
  for (let c = 0; c < 3; c++) {
    scales["x" + c] = {
      type: "linear",
      position: "bottom",
      stack: "cols",
      stackWeight: COL_WIDTHS[c],
      weight: c + 1,
      min: T_MIN,
      max: T_MAX,
      grid: { display: false, drawTicks: false, tickLength: 0 },
      border: { display: false },
      afterBuildTicks: (s: any) => {
        s.ticks = X_TICKS.map((v) => ({ value: v }));
      },
      afterFit: (s: any) => {
        s.height = CANVAS_H - (PLOT_TOP + ROW_HEIGHTS.reduce((a, b) => a + b, 0));
      },
      ticks: {
        autoSkip: false,
        maxRotation: 0,
        padding: 6,
        color: "#000",
        font: { family: SERIF, size: 10.5 },
        callback: (v: any) => fmt(v),
      },
      title: {
        display: true,
        text: "time (kyr)",
        color: "#000",
        font: { family: SERIF, size: 11.5 },
        padding: { top: 0, bottom: 6 },
      },
    };
  }
  for (let r = 0; r < 7; r++) {
    scales["y" + r] = {
      type: r === 0 ? "logarithmic" : "linear",
      position: "left",
      stack: "rows",
      stackWeight: ROW_HEIGHTS[r],
      weight: 7 - r,
      min: ROW_RANGES[r][0],
      max: ROW_RANGES[r][1],
      grid: { display: false, drawTicks: false, tickLength: 0 },
      border: { display: false },
      afterBuildTicks: (s: any) => {
        s.ticks = ROW_TICKS[r].map((v) => ({ value: v }));
      },
      afterFit: (s: any) => {
        s.width = PLOT_LEFT;
      },
      ticks: {
        autoSkip: false,
        padding: 5,
        color: "#000",
        font: { family: SERIF, size: 10.5 },
        callback: (v: any) => fmt(v),
      },
    };
  }
  return scales;
}

const subStyle: any = { fontSize: "0.72em", verticalAlign: "-0.35em", lineHeight: 0 };
const supStyle: any = { fontSize: "0.72em", verticalAlign: "0.45em", lineHeight: 0 };

const Y_TITLES: { x: number; y: number; node: any }[] = [
  { x: 13, y: 70, node: <>d<span style={subStyle}>Earth</span> (AU)</> },
  { x: 14, y: 158, node: <>(1 - e<span style={supStyle}>2</span>)<span style={supStyle}>1/2</span> cos i</> },
  { x: 20, y: 249, node: <>a (AU)</> },
  { x: 13, y: 340, node: <>e</> },
  { x: 19, y: 430, node: <>i (<span style={supStyle}>o</span>)</> },
  { x: 18, y: 517, node: <>ω (<span style={supStyle}>o</span>)</> },
  { x: 13, y: 598, node: <>distance (AU)</> },
];

export default function App() {
  const ref = useRef<HTMLCanvasElement>(null);
  useEffect(() => {
    const chart = new Chart(ref.current as HTMLCanvasElement, {
      type: "line",
      data: { datasets: buildDatasets() },
      options: {
        responsive: false,
        animation: false,
        devicePixelRatio: 1,
        layout: { padding: { top: PLOT_TOP, left: 0, right: CANVAS_W - PLOT_RIGHT, bottom: 0 } },
        plugins: { legend: { display: false }, tooltip: { enabled: false } },
        scales: buildScales(),
        events: [],
      } as any,
      plugins: [framePlugin as any],
    });
    return () => chart.destroy();
  }, []);

  let acc = PLOT_TOP;
  const rowTops = ROW_HEIGHTS.map((h) => {
    const t = acc;
    acc += h;
    return t;
  });
  let cx = PLOT_LEFT;
  const colCenters = COL_WIDTHS.map((w) => {
    const m = cx + w / 2;
    cx += w;
    return m;
  });

  const textBase: any = { position: "absolute", whiteSpace: "nowrap", fontFamily: SERIF, color: "#000", lineHeight: 1 };

  return (
    <div style={{ position: "absolute", left: 0, top: 0, width: CANVAS_W, height: CANVAS_H, background: "#fff", overflow: "hidden" }}>
      <canvas ref={ref} width={CANVAS_W} height={CANVAS_H} style={{ position: "absolute", left: 0, top: 0, width: CANVAS_W, height: CANVAS_H }} />
      {COLUMN_TAGS.map((tag, c) => (
        <div key={"ct" + c} style={{ ...textBase, left: colCenters[c], top: 11, transform: "translate(-50%,-50%)", fontSize: 11.5 }}>
          2012 FC<span style={subStyle}>71</span> {tag}
        </div>
      ))}
      {Y_TITLES.map((t, r) => (
        <div key={"yt" + r} style={{ ...textBase, left: t.x, top: t.y, transform: "translate(-50%,-50%) rotate(-90deg)", fontSize: 11.5 }}>
          {t.node}
        </div>
      ))}
      {PANEL_LETTERS.map((L, r) => (
        <div key={"pl" + r} style={{ ...textBase, left: 820, top: rowTops[r] + 2, transform: "translate(-50%,-50%)", fontSize: 11 }}>
          {L}
        </div>
      ))}
    </div>
  );
}
